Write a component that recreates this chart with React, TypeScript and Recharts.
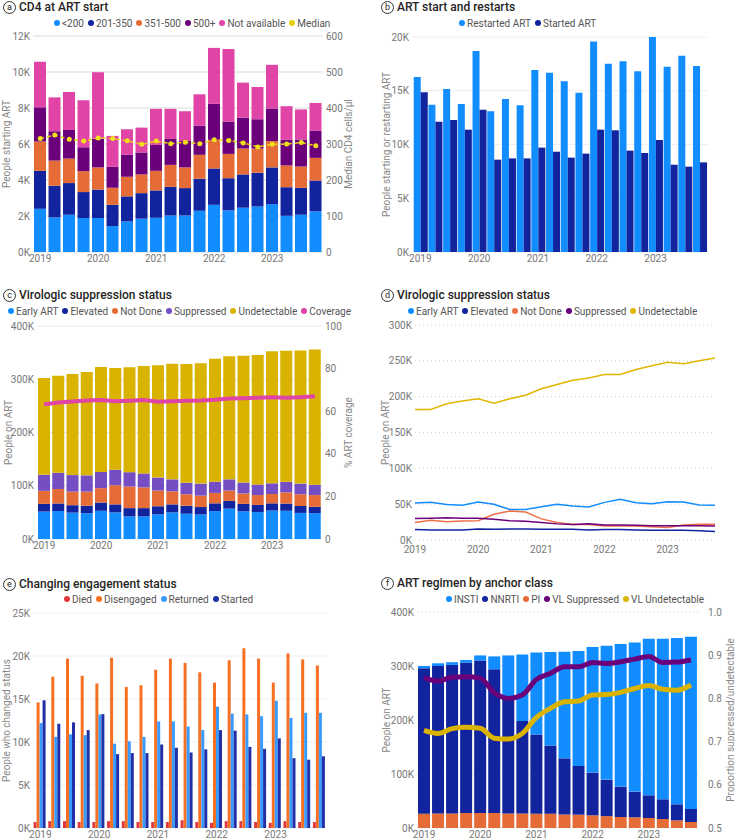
import React from 'react';
import { ComposedChart, Bar, Line, XAxis, YAxis, CartesianGrid } from 'recharts';

// Quarters shown on every panel
const quarters = [
  '2019 Q1', '2019 Q2', '2019 Q3', '2019 Q4',
  '2020 Q1', '2020 Q2', '2020 Q3', '2020 Q4',
  '2021 Q1', '2021 Q2', '2021 Q3', '2021 Q4',
  '2022 Q1', '2022 Q2', '2022 Q3', '2022 Q4',
  '2023 Q1', '2023 Q2', '2023 Q3', '2023 Q4',
];

// (a) CD4 at ART start
const cd4Under200 = [2400, 1920, 2070, 1890, 1890, 1440, 1700, 1850, 1900, 2030, 2030, 2290, 2620, 2310, 2460, 2530, 2660, 2010, 2070, 2260];
const cd4From201 = [2110, 1760, 1760, 1440, 1580, 1180, 1390, 1420, 1520, 1590, 1520, 1780, 2020, 1790, 1850, 1870, 2040, 1590, 1500, 1710];
const cd4From351 = [1630, 1400, 1360, 1160, 1230, 950, 1090, 1040, 1090, 1220, 1150, 1330, 1590, 1350, 1440, 1350, 1460, 1210, 1180, 1260];
const cd4Over500 = [1900, 1630, 1590, 1330, 1600, 1160, 1220, 1220, 1440, 1440, 1470, 1610, 2000, 1800, 1720, 1630, 1810, 1420, 1500, 1520];
const cd4NotAvail = [2530, 1880, 2110, 2610, 3680, 1720, 1420, 1380, 2000, 1670, 1650, 1750, 3110, 4030, 1940, 1790, 2430, 1870, 1670, 1530];
const cd4Median = [315, 325, 313, 308, 317, 315, 309, 299, 308, 301, 305, 301, 312, 310, 303, 292, 299, 300, 304, 295];

// (b) ART start and restarts, (e) reuses startedArt
const restartedArt = [16280, 13700, 15160, 13770, 18700, 13090, 14230, 13640, 16930, 16680, 15880, 14820, 19570, 17520, 17740, 16810, 20000, 17240, 18260, 17300];
const startedArt = [14850, 12120, 12280, 11380, 13240, 8590, 8710, 8710, 9710, 9330, 8780, 9150, 11380, 11320, 9430, 9210, 10420, 8120, 7940, 8340];

// (c)/(d) virologic suppression status
const vlEarly = [51500, 52500, 49500, 48500, 53000, 50000, 42500, 42500, 46500, 50000, 47500, 46000, 52500, 57000, 52000, 50500, 53500, 53000, 49000, 48500];
const vlElevated = [14500, 14000, 14000, 14000, 15500, 15000, 15500, 15500, 15000, 15000, 15000, 14000, 14500, 14500, 14000, 13500, 13500, 13500, 13000, 12000];
const vlNotDone = [24500, 27500, 25500, 26500, 27000, 36000, 40500, 39000, 29500, 24500, 21500, 21500, 19500, 19500, 19500, 18500, 17500, 21000, 22000, 22000];
const vlSuppressed = [30000, 30500, 31000, 30500, 30500, 29000, 27000, 26000, 24500, 22500, 21500, 22500, 21000, 21000, 20500, 20000, 20000, 20000, 20000, 19500];
const vlUndetectable = [182000, 182000, 190000, 194000, 197000, 191000, 197000, 202000, 211000, 217000, 223000, 226000, 231000, 231000, 238000, 243000, 248000, 246000, 250000, 254000];
const artCoverage = [63.2, 64.1, 64.6, 65, 65.2, 64.7, 64.9, 65.2, 64.4, 64.7, 64.9, 65, 65.4, 66, 66.1, 66.3, 66.5, 66.3, 66.6, 67];

// (e) changing engagement status
const died = [700, 800, 800, 700, 700, 800, 800, 700, 700, 700, 900, 700, 600, 800, 800, 700, 600, 800, 700, 700];
const disengaged = [14600, 17600, 19700, 17700, 16800, 19800, 16400, 16600, 18400, 19700, 19200, 18100, 16900, 19500, 20900, 19700, 16900, 20300, 19600, 18900];
const returned = [12200, 10600, 10900, 10800, 13200, 9800, 10100, 10600, 12400, 12400, 11800, 11400, 14100, 13300, 13200, 13000, 14800, 12800, 13400, 13400];

// (f) ART regimen by anchor class
const regimenPI = [26600, 27000, 27000, 28000, 28000, 28000, 27000, 27000, 26600, 26600, 25000, 24700, 23500, 22000, 20400, 19800, 18500, 16700, 14200, 11100];
const regimenNNRTI = [269400, 273000, 275000, 278000, 282000, 266000, 216000, 171000, 146400, 126400, 104000, 90300, 79100, 67600, 56300, 47600, 42100, 36500, 29700, 24100];
const regimenINSTI = [4000, 5000, 5000, 5000, 9600, 23800, 76600, 123500, 152000, 172800, 197400, 213000, 232400, 247900, 263900, 276300, 289900, 297300, 307900, 319000];
const vlSuppProp = [0.848, 0.84, 0.849, 0.85, 0.847, 0.813, 0.8, 0.808, 0.844, 0.858, 0.873, 0.873, 0.883, 0.881, 0.885, 0.891, 0.897, 0.883, 0.884, 0.889];
const vlUndetProp = [0.726, 0.719, 0.73, 0.733, 0.731, 0.708, 0.706, 0.719, 0.756, 0.777, 0.792, 0.794, 0.808, 0.809, 0.814, 0.823, 0.83, 0.821, 0.819, 0.831];

const cd4Data = quarters.map((q, i) => ({
  q, u200: cd4Under200[i], c201: cd4From201[i], c351: cd4From351[i], c500: cd4Over500[i], na: cd4NotAvail[i], median: cd4Median[i],
}));
const startData = quarters.map((q, i) => ({ q, restarted: restartedArt[i], started: startedArt[i] }));
const vlData = quarters.map((q, i) => ({
  q, early: vlEarly[i], elevated: vlElevated[i], notDone: vlNotDone[i], suppressed: vlSuppressed[i], undetectable: vlUndetectable[i], coverage: artCoverage[i],
}));
const engageData = quarters.map((q, i) => ({ q, died: died[i], disengaged: disengaged[i], returned: returned[i], started: startedArt[i] }));
const regimenData = quarters.map((q, i) => ({
  q, pi: regimenPI[i], nnrti: regimenNNRTI[i], insti: regimenINSTI[i], supp: vlSuppProp[i], undet: vlUndetProp[i],
}));

const FONT = 'Roboto, "Open Sans", sans-serif';
const LBLUE = '#118DFF';
const NAVY = '#12239E';
const ORANGE = '#E66C37';
const PURPLE = '#6B007B';
const PINK = '#E044A7';
const VIOLET = '#744EC2';
const GOLD = '#D9B300';

const tick = { fontSize: 10, fill: '#777', fontFamily: FONT };
const axisTitle = { textAnchor: 'middle', fontSize: 10, fill: '#888', fontFamily: FONT } as any;

const yearFmt = (v: string) => (v.endsWith('Q1') ? v.slice(0, 4) : '');
const kFmt = (v: number) => `${Math.round(v / 1000)}K`;

function Title({ letter, text, x, y }: { letter: string; text: string; x: number; y: number }) {
  return (
    <div style={{ position: 'absolute', left: x, top: y - 8, height: 16, display: 'flex', alignItems: 'center', fontFamily: FONT, color: '#252423' }}>
      <span style={{
        width: 11, height: 11, border: '1px solid #333', borderRadius: '50%', display: 'inline-flex',
        alignItems: 'center', justifyContent: 'center', fontSize: 9, lineHeight: 1, marginRight: 3,
      }}>{letter}</span>
      <span style={{ fontSize: 12, fontWeight: 500 }}>{text}</span>
    </div>
  );
}

function Legend({ items, x, y }: { items: Array<{ name: string; color: string }>; x: number; y: number }) {
  return (
    <div style={{ position: 'absolute', left: x, top: y - 7, height: 14, display: 'flex', alignItems: 'center', fontFamily: FONT, fontSize: 10, color: '#555', whiteSpace: 'nowrap' }}>
      {items.map((it) => (
        <span key={it.name} style={{ display: 'inline-flex', alignItems: 'center', marginRight: 4 }}>
          <span style={{ width: 6, height: 6, borderRadius: '50%', background: it.color, marginRight: 2 }} />
          {it.name}
        </span>
      ))}
    </div>
  );
}

const xAxisProps = {
  dataKey: 'q', tickFormatter: yearFmt, interval: 0, tickLine: false, axisLine: false,
  tick, tickSize: 0, tickMargin: 3,
} as any;

const yAxisBase = { axisLine: false, tickLine: false, tickSize: 0, tick } as any;

export default function App() {
  return (
    <div style={{ position: 'absolute', left: 0, top: 0, width: 735, height: 840, background: '#fff', overflow: 'hidden' }}>
      {/* (a) */}
      <div style={{ position: 'absolute', left: 0, top: 0 }}>
        <ComposedChart width={365} height={268} data={cd4Data} margin={{ top: 36, right: 0, left: 0, bottom: 0 }} barCategoryGap="7%">
          <CartesianGrid vertical={false} stroke="#DADADA" yAxisId="l" />
          <XAxis {...xAxisProps} height={16} />
          <YAxis {...yAxisBase} yAxisId="l" domain={[0, 12000]} ticks={[0, 2000, 4000, 6000, 8000, 10000, 12000]}
            tickFormatter={kFmt} width={33} tickMargin={3}
            label={{ value: 'People starting ART', angle: -90, position: 'insideLeft', offset: 6, style: axisTitle }} />
          <YAxis {...yAxisBase} yAxisId="r" orientation="right" domain={[0, 600]} ticks={[0, 100, 200, 300, 400, 500, 600]}
            width={42} tickMargin={3}
            label={{ value: 'Median CD4 cells/µl', angle: -90, position: 'insideRight', offset: 17, style: axisTitle }} />
          <Bar yAxisId="l" stackId="a" dataKey="u200" fill={LBLUE} isAnimationActive={false} />
          <Bar yAxisId="l" stackId="a" dataKey="c201" fill={NAVY} isAnimationActive={false} />
          <Bar yAxisId="l" stackId="a" dataKey="c351" fill={ORANGE} isAnimationActive={false} />
          <Bar yAxisId="l" stackId="a" dataKey="c500" fill={PURPLE} isAnimationActive={false} />
          <Bar yAxisId="l" stackId="a" dataKey="na" fill={PINK} isAnimationActive={false} />
          <Line yAxisId="r" dataKey="median" stroke="#E3CF10" strokeWidth={1.5} strokeDasharray="4 3"
            dot={{ r: 2.5, fill: '#F0DF1A', stroke: 'none' }} isAnimationActive={false} />
        </ComposedChart>
      </div>
      <Title letter="a" text="CD4 at ART start" x={3} y={7} />
      <Legend x={54} y={23} items={[
        { name: '<200', color: LBLUE }, { name: '201-350', color: NAVY }, { name: '351-500', color: ORANGE },
        { name: '500+', color: PURPLE }, { name: 'Not available', color: PINK }, { name: 'Median', color: '#E3CF10' },
      ]} />

      {/* (b) */}
      <div style={{ position: 'absolute', left: 365, top: 0 }}>
        <ComposedChart width={370} height={268} data={startData} margin={{ top: 37, right: 28, left: 0, bottom: 0 }} barCategoryGap="5%" barGap={0}>
          <CartesianGrid vertical={false} stroke="#EEEEEE" />
          <XAxis {...xAxisProps} height={16} />
          <YAxis {...yAxisBase} domain={[0, 20000]} ticks={[0, 5000, 10000, 15000, 20000]} tickFormatter={kFmt} width={48} tickMargin={4}
            label={{ value: 'People starting or restarting ART', angle: -90, position: 'insideLeft', offset: 21, style: axisTitle }} />
          <Bar dataKey="restarted" fill={LBLUE} isAnimationActive={false} />
          <Bar dataKey="started" fill={NAVY} isAnimationActive={false} />
        </ComposedChart>
      </div>
      <Title letter="b" text="ART start and restarts" x={381} y={7} />
      <Legend x={459} y={23} items={[{ name: 'Restarted ART', color: LBLUE }, { name: 'Started ART', color: NAVY }]} />

      {/* (c) */}
      <div style={{ position: 'absolute', left: 0, top: 285 }}>
        <ComposedChart width={365} height={270} data={vlData} margin={{ top: 41, right: 0, left: 0, bottom: 0 }} barCategoryGap="7%">
          <CartesianGrid vertical={false} stroke="#E6E6E6" yAxisId="l" />
          <XAxis {...xAxisProps} height={16} />
          <YAxis {...yAxisBase} yAxisId="l" domain={[0, 400000]} ticks={[0, 100000, 200000, 300000, 400000]}
            tickFormatter={kFmt} width={37} tickMargin={3}
            label={{ value: 'People on ART', angle: -90, position: 'insideLeft', offset: 8, style: axisTitle }} />
          <YAxis {...yAxisBase} yAxisId="r" orientation="right" domain={[0, 100]} ticks={[0, 20, 40, 60, 80, 100]}
            width={43} tickMargin={3}
            label={{ value: '% ART coverage', angle: -90, position: 'insideRight', offset: 17, style: axisTitle }} />
          <Bar yAxisId="l" stackId="v" dataKey="early" fill={LBLUE} isAnimationActive={false} />
          <Bar yAxisId="l" stackId="v" dataKey="elevated" fill={NAVY} isAnimationActive={false} />
          <Bar yAxisId="l" stackId="v" dataKey="notDone" fill={ORANGE} isAnimationActive={false} />
          <Bar yAxisId="l" stackId="v" dataKey="suppressed" fill={VIOLET} isAnimationActive={false} />
          <Bar yAxisId="l" stackId="v" dataKey="undetectable" fill={GOLD} isAnimationActive={false} />
          <Line yAxisId="r" dataKey="coverage" stroke={PINK} strokeWidth={4} dot={false} isAnimationActive={false} />
        </ComposedChart>
      </div>
      <Title letter="c" text="Virologic suppression status" x={3} y={295} />
      <Legend x={8} y={311} items={[
        { name: 'Early ART', color: LBLUE }, { name: 'Elevated', color: NAVY }, { name: 'Not Done', color: ORANGE },
        { name: 'Suppressed', color: VIOLET }, { name: 'Undetectable', color: GOLD }, { name: 'Coverage', color: PINK },
      ]} />

      {/* (d) */}
      <div style={{ position: 'absolute', left: 365, top: 285 }}>
        <ComposedChart width={370} height={270} data={vlData} margin={{ top: 40, right: 20, left: 0, bottom: 0 }}>
          <CartesianGrid vertical={false} stroke="#CFCFCF" strokeDasharray="1 3" />
          <XAxis {...xAxisProps} height={15} tickMargin={6} />
          <YAxis {...yAxisBase} domain={[0, 300000]} ticks={[0, 50000, 100000, 150000, 200000, 250000, 300000]}
            tickFormatter={kFmt} width={50} tickMargin={3}
            label={{ value: 'People on ART', angle: -90, position: 'insideLeft', offset: 20, style: axisTitle }} />
          <Line dataKey="early" stroke={LBLUE} strokeWidth={1.5} dot={false} isAnimationActive={false} />
          <Line dataKey="elevated" stroke={NAVY} strokeWidth={1.5} dot={false} isAnimationActive={false} />
          <Line dataKey="notDone" stroke="#EE7046" strokeWidth={1.5} dot={false} isAnimationActive={false} />
          <Line dataKey="suppressed" stroke={PURPLE} strokeWidth={1.5} dot={false} isAnimationActive={false} />
          <Line dataKey="undetectable" stroke="#E2B600" strokeWidth={1.5} dot={false} isAnimationActive={false} />
        </ComposedChart>
      </div>
      <Title letter="d" text="Virologic suppression status" x={381} y={295} />
      <Legend x={408} y={311} items={[
        { name: 'Early ART', color: LBLUE }, { name: 'Elevated', color: NAVY }, { name: 'Not Done', color: '#EE7046' },
        { name: 'Suppressed', color: PURPLE }, { name: 'Undetectable', color: '#E2B600' },
      ]} />

      {/* (e) */}
      <div style={{ position: 'absolute', left: 0, top: 560 }}>
        <ComposedChart width={365} height={280} data={engageData} margin={{ top: 53, right: 38, left: 0, bottom: 0 }} barCategoryGap="4%" barGap={0}>
          <CartesianGrid vertical={false} stroke="#F0F0F0" />
          <XAxis {...xAxisProps} height={12} />
          <YAxis {...yAxisBase} domain={[0, 25000]} ticks={[0, 5000, 10000, 15000, 20000, 25000]} tickFormatter={kFmt} width={33} tickMargin={3}
            label={{ value: 'People who changed status', angle: -90, position: 'insideLeft', offset: 6, style: axisTitle }} />
          <Bar dataKey="died" fill="#E0383E" isAnimationActive={false} />
          <Bar dataKey="disengaged" fill="#F57023" isAnimationActive={false} />
          <Bar dataKey="returned" fill="#3A9AFB" isAnimationActive={false} />
          <Bar dataKey="started" fill="#2230A8" isAnimationActive={false} />
        </ComposedChart>
      </div>
      <Title letter="e" text="Changing engagement status" x={3} y={584} />
      <Legend x={64} y={599} items={[
        { name: 'Died', color: '#E0383E' }, { name: 'Disengaged', color: '#F57023' },
        { name: 'Returned', color: '#3A9AFB' }, { name: 'Started', color: '#2230A8' },
      ]} />

      {/* (f) */}
      <div style={{ position: 'absolute', left: 365, top: 560 }}>
        <ComposedChart width={370} height={280} data={regimenData} margin={{ top: 52, right: 0, left: 0, bottom: 0 }} barCategoryGap="7%">
          <CartesianGrid vertical={false} stroke="#CFCFCF" strokeDasharray="1 3" yAxisId="l" />
          <XAxis {...xAxisProps} height={12} />
          <YAxis {...yAxisBase} yAxisId="l" domain={[0, 400000]} ticks={[0, 100000, 200000, 300000, 400000]}
            tickFormatter={kFmt} width={52} tickMargin={3}
            label={{ value: 'People on ART', angle: -90, position: 'insideLeft', offset: 21, style: axisTitle }} />
          <YAxis {...yAxisBase} yAxisId="r" orientation="right" domain={[0.5, 1]} ticks={[0.5, 0.6, 0.7, 0.8, 0.9, 1.0]}
            tickFormatter={(v: number) => v.toFixed(1)} width={37} tickMargin={10}
            label={{ value: 'Proportion suppressed/undetectable', angle: -90, position: 'insideRight', offset: 5, style: axisTitle }} />
          <Bar yAxisId="l" stackId="r" dataKey="pi" fill={ORANGE} isAnimationActive={false} />
          <Bar yAxisId="l" stackId="r" dataKey="nnrti" fill={NAVY} isAnimationActive={false} />
          <Bar yAxisId="l" stackId="r" dataKey="insti" fill={LBLUE} isAnimationActive={false} />
          <Line yAxisId="r" type="monotone" dataKey="supp" stroke={PURPLE} strokeWidth={5} dot={false} isAnimationActive={false} />
          <Line yAxisId="r" type="monotone" dataKey="undet" stroke={GOLD} strokeWidth={5} dot={false} isAnimationActive={false} />
        </ComposedChart>
      </div>
      <Title letter="f" text="ART regimen by anchor class" x={381} y={583} />
      <Legend x={446} y={599} items={[
        { name: 'INSTI', color: LBLUE }, { name: 'NNRTI', color: NAVY }, { name: 'PI', color: ORANGE },
        { name: 'VL Suppressed', color: PURPLE }, { name: 'VL Undetectable', color: GOLD },
      ]} />
    </div>
  );
}
